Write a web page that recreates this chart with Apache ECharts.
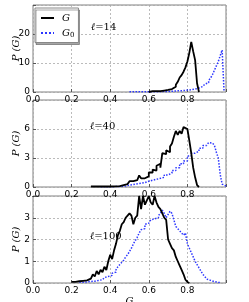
<!DOCTYPE html>
<html><head><meta charset="utf-8">
<script src="https://cdn.jsdelivr.net/npm/echarts@6/dist/echarts.min.js"></script>
<style>html,body{margin:0;padding:0;background:#fff}#c{width:249px;height:302px}</style>
</head><body><div id="c"></div>
<script>
// x tick labels and y tick settings per panel
const xTicks = [0.0, 0.2, 0.4, 0.6, 0.8];
const yMax = [30, 9, 4];
const yInterval = [10, 3, 1];
const panelLabels = ['14', '40', '100'];

// histogram data: [bin left edge, P]
const g14 = [[0.60,0],[0.61,0.3],[0.62,0.2],[0.63,0.3],[0.64,0.4],[0.65,0.3],[0.66,0.6],[0.67,0.5],[0.68,1.0],[0.69,0.7],[0.70,1.2],[0.71,1.0],[0.72,1.6],[0.73,1.8],[0.74,2.5],[0.75,3.5],[0.76,5.0],[0.77,5.8],[0.78,7.0],[0.79,8.5],[0.80,10.5],[0.81,13.5],[0.82,17.3],[0.83,14.0],[0.84,11.0],[0.85,3.0],[0.86,0]];
const g0_14 = [[0.50,0.05],[0.55,0.08],[0.60,0.1],[0.65,0.2],[0.70,0.3],[0.73,0.4],[0.75,0.5],[0.78,0.65],[0.80,0.8],[0.82,1.0],[0.84,1.2],[0.85,1.4],[0.86,1.6],[0.87,1.9],[0.88,2.2],[0.89,2.7],[0.90,3.2],[0.91,4.0],[0.92,4.8],[0.93,6.0],[0.94,7.5],[0.95,9.0],[0.96,10.5],[0.97,12.5],[0.98,14.5],[0.99,0]];

const g40 = [[0.30,0.05],[0.35,0.05],[0.40,0.1],[0.45,0.2],[0.47,0.3],[0.49,0.45],[0.50,0.6],[0.52,0.7],[0.54,0.8],[0.55,1.2],[0.56,0.9],[0.58,1.1],[0.60,1.5],[0.62,1.8],[0.63,1.7],[0.64,2.2],[0.65,2.4],[0.66,2.0],[0.67,3.5],[0.68,3.4],[0.69,3.8],[0.70,3.6],[0.71,4.2],[0.72,4.5],[0.73,5.2],[0.74,5.8],[0.75,5.4],[0.76,5.8],[0.77,5.5],[0.78,6.2],[0.79,6.0],[0.80,6.2],[0.81,4.8],[0.82,3.5],[0.83,2.0],[0.84,1.0],[0.85,0.2],[0.86,0]];
const g0_40 = [[0.35,0.03],[0.40,0.05],[0.45,0.1],[0.48,0.2],[0.50,0.25],[0.52,0.35],[0.55,0.45],[0.58,0.6],[0.60,0.7],[0.62,0.85],[0.65,1.0],[0.68,1.25],[0.70,1.45],[0.72,1.7],[0.74,2.0],[0.76,2.4],[0.78,2.7],[0.80,3.2],[0.82,3.5],[0.84,3.7],[0.86,4.0],[0.88,4.3],[0.90,4.5],[0.91,4.6],[0.92,4.55],[0.93,4.4],[0.94,4.3],[0.95,3.6],[0.96,3.0],[0.97,1.3],[0.98,0.3],[0.99,0.1],[1.00,0]];

const g100 = [[0.20,0.05],[0.21,0.05],[0.22,0.05],[0.23,0.08],[0.24,0.05],[0.25,0.1],[0.26,0.08],[0.27,0.12],[0.28,0.1],[0.29,0.2],[0.30,0.25],[0.31,0.4],[0.32,0.3],[0.33,0.55],[0.34,0.4],[0.35,0.6],[0.36,0.5],[0.37,0.75],[0.38,0.6],[0.39,1.0],[0.40,1.3],[0.41,1.1],[0.42,1.5],[0.43,1.8],[0.44,2.2],[0.45,2.4],[0.46,2.7],[0.47,2.8],[0.48,3.0],[0.49,3.1],[0.50,3.2],[0.51,3.1],[0.52,2.7],[0.53,3.0],[0.54,3.1],[0.55,4.0],[0.56,3.4],[0.57,4.0],[0.58,3.6],[0.59,3.8],[0.60,4.0],[0.61,3.7],[0.62,3.6],[0.63,4.0],[0.64,3.7],[0.65,3.5],[0.66,3.4],[0.67,3.2],[0.68,3.0],[0.69,2.9],[0.70,2.0],[0.71,1.8],[0.72,1.6],[0.73,1.5],[0.74,1.2],[0.75,1.0],[0.76,0.8],[0.77,0.6],[0.78,0.4],[0.79,0.15],[0.80,0.05],[0.81,0]];
const g0_100 = [[0.24,0.03],[0.26,0.05],[0.28,0.07],[0.30,0.08],[0.32,0.12],[0.34,0.15],[0.36,0.2],[0.37,0.25],[0.38,0.3],[0.39,0.3],[0.40,0.35],[0.41,0.45],[0.42,0.5],[0.43,0.6],[0.44,0.75],[0.45,0.85],[0.46,0.95],[0.47,1.05],[0.48,1.2],[0.49,1.3],[0.50,1.45],[0.51,1.6],[0.52,1.8],[0.53,1.95],[0.54,2.1],[0.55,2.3],[0.56,2.45],[0.57,2.5],[0.58,2.7],[0.59,2.75],[0.60,2.8],[0.61,2.9],[0.62,2.95],[0.63,2.9],[0.64,3.0],[0.65,3.1],[0.66,3.2],[0.67,3.35],[0.68,3.2],[0.69,3.0],[0.70,3.15],[0.71,3.3],[0.72,3.2],[0.73,2.9],[0.74,2.6],[0.75,2.5],[0.76,2.4],[0.77,2.3],[0.78,2.2],[0.79,2.3],[0.80,1.8],[0.81,1.6],[0.82,1.4],[0.83,1.2],[0.84,1.0],[0.85,0.85],[0.86,0.7],[0.87,0.55],[0.88,0.4],[0.89,0.3],[0.90,0.18],[0.91,0.12],[0.92,0.08],[0.93,0.06],[0.94,0.05],[0.95,0.03],[0.96,0.02],[0.97,0]];

const gSeries = [g14, g40, g100];
const g0Series = [g0_14, g0_40, g0_100];

const SERIF = '"DejaVu Serif", "Liberation Serif", serif';
const SANS = '"DejaVu Sans", sans-serif';
const tops = [5, 100, 196];
const H = 87;

const grids = [], xAxes = [], yAxes = [], series = [], graphics = [];
for (let i = 0; i < 3; i++) {
  grids.push({left: 33, top: tops[i], width: 193, height: H, containLabel: false, outerBoundsMode: 'none',
    show: true, borderColor: '#808080', borderWidth: 1, backgroundColor: 'transparent'});
  xAxes.push({
    type: 'value', gridIndex: i, min: 0, max: 1, interval: 0.2,
    axisLine: {show: false},
    axisTick: {show: true, inside: true, length: 3, lineStyle: {color: '#555'}},
    axisLabel: {fontSize: 9, color: '#000', fontFamily: SANS, margin: 3,
      formatter: v => (xTicks.some(t => Math.abs(t - v) < 1e-6) ? v.toFixed(1) : '')},
    splitLine: {show: true, lineStyle: {color: '#aaa', type: [2, 2], width: 0.8}},
    name: i === 2 ? 'G' : '', nameLocation: 'middle', nameGap: 13, nameMoveOverlap: false,
    nameTextStyle: {fontFamily: SERIF, fontStyle: 'italic', fontSize: 10, color: '#000'}
  });
  yAxes.push({
    type: 'value', gridIndex: i, min: 0, max: yMax[i], interval: yInterval[i],
    axisLine: {show: false},
    axisTick: {show: true, inside: true, length: 3, lineStyle: {color: '#555'}},
    axisLabel: {fontSize: 9, color: '#000', fontFamily: SANS, margin: 3,
      formatter: v => (v >= yMax[i] - 1e-9 ? '' : String(v))},
    splitLine: {show: true, lineStyle: {color: '#aaa', type: [2, 2], width: 0.8}},
    name: 'P (G)', nameLocation: 'middle', nameGap: 12, nameRotate: 90, nameMoveOverlap: false,
    nameTextStyle: {fontFamily: SERIF, fontStyle: 'italic', fontSize: 10, color: '#000'}
  });
  series.push({
    name: 'G', type: 'line', xAxisIndex: i, yAxisIndex: i, step: 'end', symbol: 'none', showSymbol: false,
    data: gSeries[i], clip: true,
    lineStyle: {color: '#000', width: 1.8}, itemStyle: {color: '#000'}, z: 3
  });
  series.push({
    name: 'G0', type: 'line', xAxisIndex: i, yAxisIndex: i, step: 'end', symbol: 'none', showSymbol: false,
    data: g0Series[i], clip: true,
    lineStyle: {color: '#2b35ff', width: 1.5, type: 'dotted'}, itemStyle: {color: '#2b35ff'}, z: 2
  });
}
const labelPos = [[91, 22], [90, 121], [90, 231]];
for (let i = 0; i < 3; i++) {
  graphics.push({
    type: 'text', left: labelPos[i][0], top: labelPos[i][1], z: 10,
    style: {text: '{l|ℓ}{e|=' + panelLabels[i] + '}',
      rich: {l: {fontFamily: SERIF, fontStyle: 'italic', fontSize: 10, fill: '#000'},
             e: {fontFamily: SERIF, fontSize: 10, fill: '#000'}}}
  });
}

const chart = echarts.init(document.getElementById('c'));
chart.setOption({
  animation: false,
  grid: grids, xAxis: xAxes, yAxis: yAxes, series: series, graphic: graphics,
  legend: {
    orient: 'vertical', left: 35, top: 8, itemWidth: 13, itemHeight: 8, itemGap: 5,
    padding: [5, 4, 4, 5], borderColor: '#888', borderWidth: 1, backgroundColor: '#fff',
    shadowColor: 'rgba(0,0,0,0.35)', shadowOffsetX: 1, shadowOffsetY: 2, shadowBlur: 0,
    itemStyle: {opacity: 0},
    data: [{name: 'G'}, {name: 'G0'}],
    formatter: n => n === 'G' ? '{g|G}' : '{g|G}{s|0}',
    textStyle: {color: '#000', padding: [0, 0, 0, 3],
      rich: {g: {fontFamily: SERIF, fontStyle: 'italic', fontSize: 10},
             s: {fontFamily: SERIF, fontSize: 7, verticalAlign: 'bottom', padding: [4, 0, 0, 0]}}}
  }
});
</script></body></html>
